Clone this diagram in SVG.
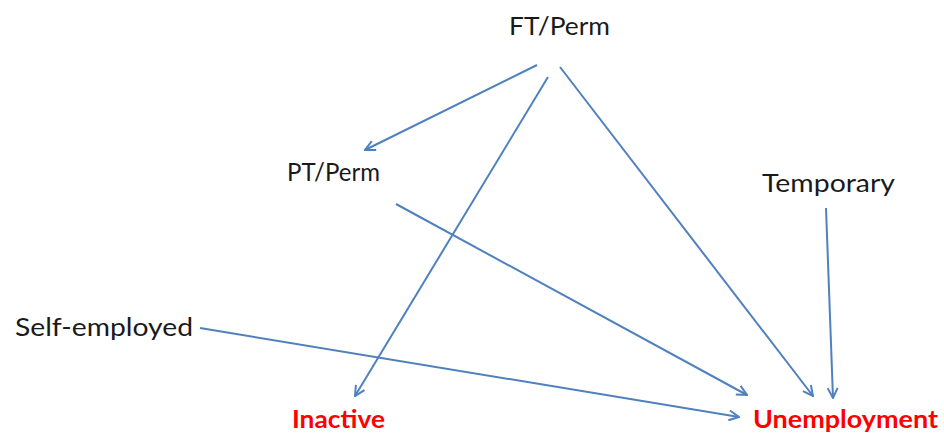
<svg xmlns="http://www.w3.org/2000/svg" width="944" height="436" viewBox="0 0 944 436">
  <style>
    .lbl { font-family: Lato, "Open Sans", "Liberation Sans", sans-serif; font-size: 25px; fill: #1a1a1a; }
    .out { font-family: Lato, "Open Sans", "Liberation Sans", sans-serif; font-size: 25px; font-weight: bold; fill: #ff0000; }
    .edge { fill: none; stroke: #4f81bd; stroke-width: 2; marker-end: url(#open); }
  </style>
  <defs>
    <marker id="open" viewBox="0 0 12 12" refX="11" refY="6" markerWidth="12" markerHeight="12" markerUnits="userSpaceOnUse" orient="auto">
      <path d="M1,1 L11,6 L1,11" fill="none" stroke="#4f81bd" stroke-width="2" stroke-linejoin="miter"/>
    </marker>
  </defs>
  <rect width="944" height="436" fill="#ffffff"/>

  <g id="connectors">
    <line class="edge" x1="537" y1="65" x2="365" y2="150"/>
    <line class="edge" x1="548" y1="77" x2="355" y2="396"/>
    <line class="edge" x1="560" y1="67" x2="813" y2="396"/>
    <line class="edge" x1="396" y1="204" x2="747" y2="395"/>
    <line class="edge" x1="826" y1="208" x2="833" y2="398"/>
    <line class="edge" x1="200" y1="328" x2="739" y2="417"/>
  </g>

  <g id="ft-perm"><text class="lbl" x="509" y="35" textLength="101" lengthAdjust="spacingAndGlyphs">FT/Perm</text></g>
  <g id="pt-perm"><text class="lbl" x="287" y="181" textLength="93" lengthAdjust="spacingAndGlyphs">PT/Perm</text></g>
  <g id="temporary"><text class="lbl" x="762" y="192" textLength="133" lengthAdjust="spacingAndGlyphs">Temporary</text></g>
  <g id="self-employed"><text class="lbl" x="15" y="336" textLength="178" lengthAdjust="spacingAndGlyphs">Self-employed</text></g>
  <g id="inactive"><text class="out" x="292" y="428" textLength="93" lengthAdjust="spacingAndGlyphs">Inactive</text></g>
  <g id="unemployment"><text class="out" x="753" y="428" textLength="185" lengthAdjust="spacingAndGlyphs">Unemployment</text></g>
</svg>
